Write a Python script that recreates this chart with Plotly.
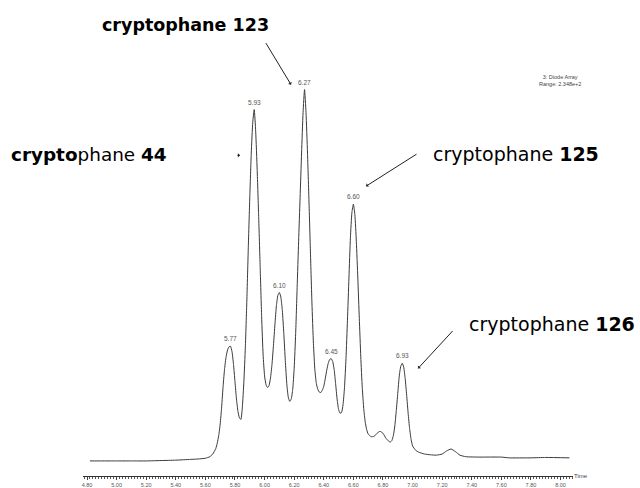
import plotly.graph_objects as go

# Diode-array chromatogram, intensity in % of full range (100% = 2.348e+2)
time_min = [
    4.82, 4.90, 5.00, 5.10, 5.20, 5.30, 5.40, 5.50, 5.55, 5.60,
    5.63, 5.65, 5.67, 5.68, 5.69, 5.70, 5.71, 5.72, 5.73, 5.74,
    5.75, 5.76, 5.77, 5.78, 5.79, 5.80, 5.81, 5.82, 5.83, 5.84,
    5.85, 5.86, 5.87, 5.88, 5.89, 5.90, 5.91, 5.92, 5.93, 5.94,
    5.95, 5.96, 5.97, 5.98, 5.99, 6.00, 6.01, 6.02, 6.03, 6.04,
    6.05, 6.06, 6.07, 6.08, 6.09, 6.10, 6.11, 6.12, 6.13, 6.14,
    6.15, 6.16, 6.17, 6.18, 6.19, 6.20, 6.21, 6.22, 6.23, 6.24,
    6.25, 6.26, 6.27, 6.28, 6.29, 6.30, 6.31, 6.32, 6.33, 6.34,
    6.35, 6.36, 6.37, 6.38, 6.39, 6.40, 6.41, 6.42, 6.43, 6.44,
    6.45, 6.46, 6.47, 6.48, 6.49, 6.50, 6.51, 6.52, 6.53, 6.54,
    6.55, 6.56, 6.57, 6.58, 6.59, 6.60, 6.61, 6.62, 6.63, 6.64,
    6.65, 6.66, 6.67, 6.68, 6.69, 6.70, 6.72, 6.74, 6.76, 6.78,
    6.80, 6.82, 6.84, 6.85, 6.86, 6.87, 6.88, 6.89, 6.90, 6.91,
    6.92, 6.93, 6.94, 6.95, 6.96, 6.97, 6.98, 6.99, 7.00, 7.02,
    7.04, 7.08, 7.12, 7.16, 7.20, 7.23, 7.26, 7.29, 7.32, 7.36,
    7.45, 7.60, 7.65, 7.80, 7.90, 8.06,
]
intensity_pct = [
    3.4, 3.4, 3.4, 3.4, 3.4, 3.5, 3.6, 3.8, 3.9, 4.1,
    4.5, 5.2, 6.6, 8.0, 10.0, 13.0, 17.5, 23.0, 27.5, 30.5,
    32.3, 33.1, 33.2, 31.8, 28.5, 24.0, 19.5, 16.3, 14.6, 14.2,
    17.5, 24.0, 33.0, 45.0, 59.0, 72.0, 83.5, 91.5, 94.8, 89.0,
    79.0, 67.0, 54.0, 41.0, 31.0, 25.5, 23.2, 22.5, 23.0, 25.0,
    28.5, 33.5, 39.0, 43.8, 46.5, 47.2, 46.0, 42.5, 36.5, 29.5,
    23.5, 20.0, 18.9, 19.5, 22.0, 27.5, 36.5, 48.5, 60.5, 72.0,
    83.5, 94.0, 100.0, 94.0, 83.5, 71.0, 57.5, 44.5, 34.0, 27.0,
    23.5, 22.0, 21.3, 21.2, 21.8, 22.8, 24.8, 27.0, 28.8, 29.8,
    30.0, 29.3, 27.2, 23.5, 19.5, 16.8, 15.8, 16.0, 18.0, 22.5,
    30.0, 40.0, 51.0, 61.5, 68.0, 70.2, 67.5, 60.5, 51.0, 40.5,
    30.5, 22.5, 17.0, 13.5, 11.5, 10.4, 9.7, 9.8, 10.6, 11.1,
    10.6, 9.3, 8.5, 8.3, 8.7, 10.0, 12.5, 16.5, 21.0, 25.5,
    28.0, 28.8, 27.8, 24.8, 20.5, 15.8, 11.8, 9.0, 7.3, 6.2,
    5.7, 5.2, 5.0, 4.9, 5.2, 6.0, 6.5, 5.8, 4.9, 4.5,
    4.4, 4.4, 4.2, 4.2, 4.3, 4.2,
]

# Retention times printed above the peaks
peak_times = [5.77, 5.93, 6.10, 6.27, 6.45, 6.60, 6.93]
peak_labels = ["5.77", "5.93", "6.10", "6.27", "6.45", "6.60", "6.93"]

tick_start, tick_step = 4.80, 0.20
x_range = [4.773, 8.084]
y_range = [-0.52, 123.3]

detector_text = "3: Diode Array<br>Range: 2.348e+2"

fig = go.Figure()
fig.add_trace(go.Scatter(
    x=time_min, y=intensity_pct, mode="lines",
    line=dict(color="#3a3a3a", width=1, shape="spline", smoothing=0.5),
    hoverinfo="skip", showlegend=False,
))

lookup = dict(zip(time_min, intensity_pct))
annotations = []
for t, lab in zip(peak_times, peak_labels):
    annotations.append(dict(
        x=t, y=lookup[t], xref="x", yref="y", text=lab, showarrow=False,
        yanchor="bottom", yshift=2,
        font=dict(family="Liberation Sans, Arial", size=6.5, color="#555"),
    ))

label_font = dict(family="DejaVu Sans", color="#000")
annotations += [
    dict(xref="paper", yref="paper", x=0.0347, y=0.9477, xanchor="left",
         yanchor="middle", showarrow=False,
         text="<b>cryptophane 123</b>", font=dict(label_font, size=17.5)),
    dict(xref="paper", yref="paper", x=-0.151, y=0.6757, xanchor="left",
         yanchor="middle", showarrow=False,
         text="<b>crypto</b>phane <b>44</b>", font=dict(label_font, size=18.4)),
    dict(xref="paper", yref="paper", x=0.7102, y=0.6757, xanchor="left",
         yanchor="middle", showarrow=False,
         text="cryptophane <b>125</b>", font=dict(label_font, size=19)),
    dict(xref="paper", yref="paper", x=0.7837, y=0.3201, xanchor="left",
         yanchor="middle", showarrow=False,
         text="cryptophane <b>126</b>", font=dict(label_font, size=19)),
]

# Pointer arrows from the compound names to their peaks
arrow_style = dict(xref="paper", yref="paper", text="", showarrow=True,
                   arrowhead=1, arrowsize=0.7, arrowwidth=1, arrowcolor="#222",
                   axref="pixel", ayref="pixel")
for hx, hy, ax, ay in [(0.4245, 0.8222, -26, -43),
                       (0.3204, 0.6736, -4, 0),
                       (0.5776, 0.6088, 52, -33),
                       (0.6837, 0.2259, 36, -39)]:
    annotations.append(dict(arrow_style, x=hx, y=hy, ax=ax, ay=ay))

annotations += [
    dict(xref="paper", yref="paper", x=0.9735, y=0.8305, xanchor="center",
         yanchor="middle", showarrow=False, text=detector_text, align="center",
         font=dict(family="Liberation Sans, Arial", size=5.5, color="#444")),
    dict(xref="paper", yref="paper", x=1.0163, y=0.0, xanchor="center",
         yanchor="middle", showarrow=False, text="Time",
         font=dict(family="Liberation Sans, Arial", size=6, color="#444")),
]

fig.update_layout(
    width=640, height=488,
    margin=dict(l=83, r=67, t=0, b=12),
    paper_bgcolor="white", plot_bgcolor="white",
    annotations=annotations,
    xaxis=dict(
        range=x_range, showgrid=False, zeroline=False,
        showline=True, linecolor="#333", linewidth=1,
        tickmode="linear", tick0=tick_start, dtick=tick_step, tickformat=".2f",
        ticks="outside", ticklen=3, tickwidth=1, tickcolor="#444",
        tickfont=dict(family="Liberation Sans, Arial", size=5.5, color="#555"),
        minor=dict(tick0=tick_start, dtick=0.02, ticks="outside", ticklen=2,
                   tickcolor="#555", showgrid=False),
        automargin=False,
    ),
    yaxis=dict(range=y_range, visible=False, automargin=False),
)

fig.write_html("out.html")
